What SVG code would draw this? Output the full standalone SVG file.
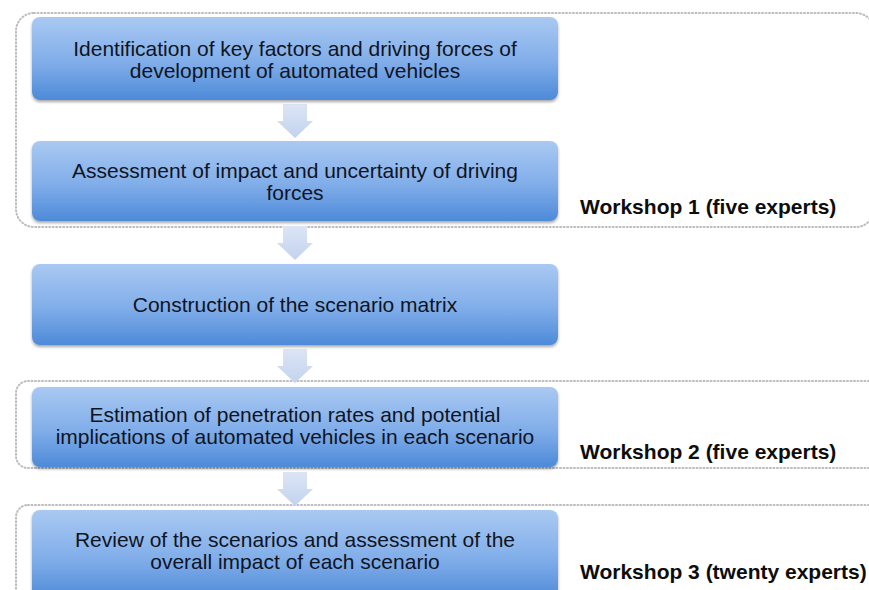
<svg xmlns="http://www.w3.org/2000/svg" width="869" height="590" viewBox="0 0 869 590">
<defs>
<linearGradient id="boxg" x1="0" y1="0" x2="0" y2="1">
<stop offset="0" stop-color="#a9c9f2"/>
<stop offset="0.55" stop-color="#80ade9"/>
<stop offset="1" stop-color="#4d8ad8"/>
</linearGradient>
<linearGradient id="arrg" x1="0" y1="0" x2="0" y2="1">
<stop offset="0" stop-color="#dbe5f5"/>
<stop offset="1" stop-color="#c3d3ee"/>
</linearGradient>
<filter id="sh" x="-5%" y="-10%" width="110%" height="130%">
<feGaussianBlur in="SourceAlpha" stdDeviation="1.5"/>
<feOffset dy="2" result="b"/>
<feComponentTransfer><feFuncA type="linear" slope="0.35"/></feComponentTransfer>
<feMerge><feMergeNode/><feMergeNode in="SourceGraphic"/></feMerge>
</filter>
<path id="arr" d="M-12,0 H12 V17 H18 L0,34 L-18,17 H-12 Z"/>
</defs>
<style>
.box{fill:url(#boxg);filter:url(#sh)}
.t{font-family:"Liberation Sans",Arial,sans-serif;font-size:21px;fill:#10141f;text-anchor:middle}
.w{font-family:"Liberation Sans",Arial,sans-serif;font-size:21px;font-weight:bold;fill:#0d0d0d}
.grp{fill:none;stroke:#bdbdbd;stroke-width:2;stroke-dasharray:1 2.5;stroke-linecap:round}
.a{fill:url(#arrg)}
</style>
<rect width="869" height="590" fill="#fff"/>
<g id="workshops">
<rect class="grp" x="16" y="13" width="858" height="214" rx="18"/>
<rect class="grp" x="16" y="381" width="900" height="87" rx="12"/>
<rect class="grp" x="16" y="505" width="900" height="120" rx="12"/>
</g>
<g id="connectors">
<use href="#arr" class="a" x="295" y="104"/>
<use href="#arr" class="a" x="295" y="226"/>
<use href="#arr" class="a" x="295" y="349"/>
<use href="#arr" class="a" x="295" y="472"/>
</g>
<g id="n1">
<rect class="box" x="32" y="17" width="526" height="83" rx="8"/>
<text class="t" x="295" y="56">Identification of key factors and driving forces of</text>
<text class="t" x="295" y="78">development of automated vehicles</text>
</g>
<g id="n2">
<rect class="box" x="32" y="141" width="526" height="80" rx="8"/>
<text class="t" x="295" y="178">Assessment of impact and uncertainty of driving</text>
<text class="t" x="295" y="200">forces</text>
</g>
<g id="n3">
<rect class="box" x="32" y="264" width="526" height="81" rx="8"/>
<text class="t" x="295" y="312">Construction of the scenario matrix</text>
</g>
<g id="n4">
<rect class="box" x="32" y="387" width="526" height="80" rx="8"/>
<text class="t" x="295" y="422">Estimation of penetration rates and potential</text>
<text class="t" x="295" y="444">implications of automated vehicles in each scenario</text>
</g>
<g id="n5">
<rect class="box" x="32" y="510" width="526" height="90" rx="8"/>
<text class="t" x="295" y="547">Review of the scenarios and assessment of the</text>
<text class="t" x="295" y="569">overall impact of each scenario</text>
</g>
<g id="labels">
<text class="w" x="580" y="214">Workshop 1 (five experts)</text>
<text class="w" x="580" y="459">Workshop 2 (five experts)</text>
<text class="w" x="580" y="579">Workshop 3 (twenty experts)</text>
</g>
</svg>
